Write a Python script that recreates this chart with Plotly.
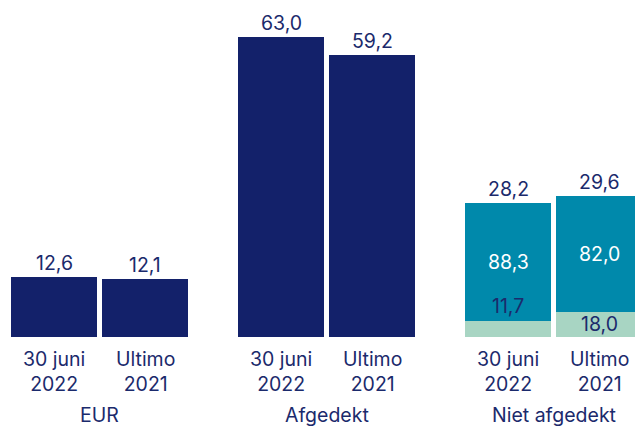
import plotly.graph_objects as go

groups = ["EUR", "Afgedekt", "Niet afgedekt"]
periods = ["30 juni<br>2022", "Ultimo<br>2021"]
eur = [12.6, 12.1]
afgedekt = [63.0, 59.2]
niet_afgedekt = [28.2, 29.6]
niet_share_main = [88.3, 82.0]
niet_share_rest = [11.7, 18.0]

def fmt(v):
    return f"{v:.1f}".replace(".", ",")

NAVY = "#13216a"
TEXT = "#1b2a6c"
TEAL = "#0089ab"
MINT = "#a8d5c3"
FONT = "Inter"

# layout in pixel-like x units
W, H = 635, 428
first_center, group_step, bar_step, bar_w = 54, 227, 91, 86
px_per_unit = 300 / 63.0
base_px = 337
y_top = base_px / px_per_unit
y_bot = -(H - base_px) / px_per_unit

def xpos(g, b):
    return first_center + g * group_step + b * bar_step

fig = go.Figure()
ann = []

# solid bars
for g, vals in enumerate([eur, afgedekt]):
    xs = [xpos(g, b) for b in range(2)]
    fig.add_trace(go.Bar(x=xs, y=vals, width=bar_w, marker_color=NAVY,
                         marker_line_width=0, hoverinfo="skip"))
    for x, v in zip(xs, vals):
        ann.append(dict(x=x, y=v, text=fmt(v), yshift=14))

# stacked bars
xs = [xpos(2, b) for b in range(2)]
rest = [t * s / 100 for t, s in zip(niet_afgedekt, niet_share_rest)]
main = [t * s / 100 for t, s in zip(niet_afgedekt, niet_share_main)]
fig.add_trace(go.Bar(x=xs, y=rest, width=bar_w, marker_color=MINT,
                     marker_line_width=0, hoverinfo="skip"))
fig.add_trace(go.Bar(x=xs, y=main, width=bar_w, marker_color=TEAL,
                     marker_line_width=0, hoverinfo="skip"))
for i, x in enumerate(xs):
    t = niet_afgedekt[i]
    ann.append(dict(x=x, y=t, text=fmt(t), yshift=14))
    ann.append(dict(x=x, y=rest[i] + main[i] / 2, text=fmt(niet_share_main[i]),
                    font=dict(color="white")))
    if rest[i] < 4:
        ann.append(dict(x=x, y=rest[i], text=fmt(niet_share_rest[i]), yshift=15))
    else:
        ann.append(dict(x=x, y=rest[i] / 2, text=fmt(niet_share_rest[i])))

# category labels
for g, name in enumerate(groups):
    for b, p in enumerate(periods):
        ann.append(dict(x=xpos(g, b), y=0, text=p, yshift=-34, yanchor="middle"))
    ann.append(dict(x=(xpos(g, 0) + xpos(g, 1)) / 2, y=0, text=name, yshift=-78))

for a in ann:
    a.setdefault("showarrow", False)
    a.setdefault("yanchor", "middle")
    a.setdefault("xanchor", "center")
    f = a.setdefault("font", {})
    f.setdefault("color", TEXT)
    f.setdefault("size", 19.5)
    f.setdefault("family", FONT)

fig.update_layout(
    width=W, height=H, barmode="stack", showlegend=False,
    margin=dict(l=0, r=0, t=0, b=0),
    paper_bgcolor="white", plot_bgcolor="white",
    xaxis=dict(range=[0, W], visible=False, fixedrange=True),
    yaxis=dict(range=[y_bot, y_top], visible=False, fixedrange=True),
    annotations=ann, bargap=0,
)
fig.write_html("out.html", config={"displayModeBar": False})

with open("out.html", encoding="utf-8") as fh:
    html = fh.read()
html = html.replace("<head>", "<head><style>html,body{margin:0;padding:0;overflow:hidden}</style>", 1)
with open("out.html", "w", encoding="utf-8") as fh:
    fh.write(html)
